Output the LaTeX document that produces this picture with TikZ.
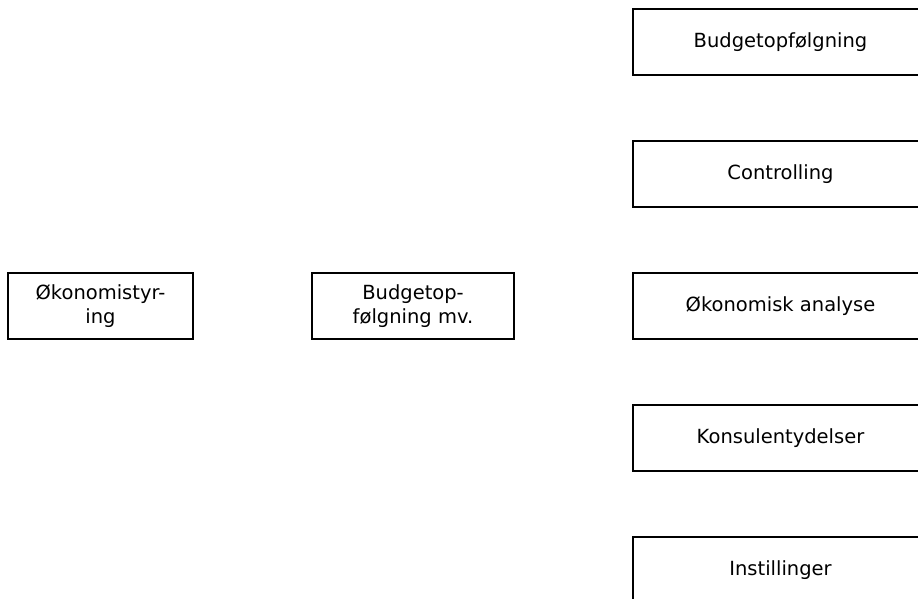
\documentclass[tikz,border=0pt]{standalone}
\usepackage{fontspec}
\setmainfont{DejaVu Sans}
\usetikzlibrary{positioning}

\begin{document}
\begin{tikzpicture}[
  x=1pt, y=1pt,
  node distance=64.5pt and 117.5pt,
  box/.style={draw, line width=1.5pt, align=center, inner sep=0pt, minimum height=66pt, font=\fontsize{19.5}{24}\selectfont},
  lbox/.style={box, minimum width=185pt},
  mbox/.style={box, minimum width=202pt},
  rbox/.style={box, minimum width=295pt},
]
\useasboundingbox (0,0) rectangle (918,598);
\clip (0,0) rectangle (918,598);

% === LEFT: main area ===
\node[lbox] (styring) at (100.5,292) {Økonomistyr-\\ing};
\node[mbox, right=of styring] (budgetmv) {Budgetop-\\følgning mv.};

% === RIGHT: sub items ===
\node[rbox, right=of budgetmv] (analyse) {Økonomisk analyse};
\node[rbox, above=of analyse] (controlling) {Controlling};
\node[rbox, above=of controlling] (budget) {Budgetopfølgning};
\node[rbox, below=of analyse] (konsulent) {Konsulentydelser};
\node[rbox, below=of konsulent] (instil) {Instillinger};

\end{tikzpicture}
\end{document}
